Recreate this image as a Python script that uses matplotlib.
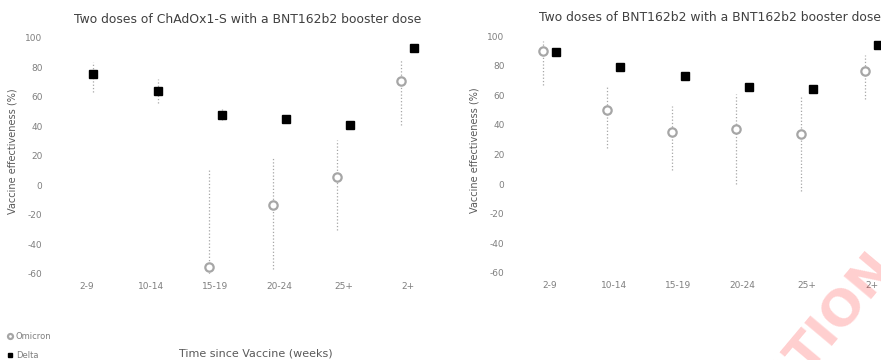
import numpy as np
import matplotlib.pyplot as plt

plt.rcParams['axes.unicode_minus'] = False

# 데이터
weeks = ['2-9', '10-14', '15-19', '20-24', '25+', '2+']

# ChAdOx1-S x2 + BNT162b2 booster
az_omicron = [np.nan, np.nan, -55.3, -13.2, 5.8, 70.8]
az_omicron_lo = [np.nan, np.nan, -60.0, -56.6, -30.2, 41.0]
az_omicron_hi = [np.nan, np.nan, 11.9, 19.3, 30.8, 85.0]
az_delta = [75.6, 64.0, 47.8, 45.0, 41.0, 93.2]
az_delta_lo = [63.4, 56.0, 44.4, 43.0, 39.0, 92.0]
az_delta_hi = [83.7, 72.2, 51.9, 47.0, 43.0, 94.0]

# BNT162b2 x2 + BNT162b2 booster
pf_omicron = [89.8, 49.8, 34.9, 37.0, 34.2, 76.3]
pf_omicron_lo = [66.8, 24.7, 9.8, 0.3, -4.4, 57.3]
pf_omicron_hi = [96.6, 65.4, 52.5, 60.7, 59.3, 87.0]
pf_delta = [89.2, 79.0, 72.9, 65.4, 64.0, 94.0]
pf_delta_lo = [88.0, 78.0, 72.0, 64.5, 63.0, 93.5]
pf_delta_hi = [90.0, 80.0, 73.8, 66.3, 65.0, 94.5]

GREY = '#a6a6a6'
TXT = '#7f7f7f'


def draw_panel(ax, title, om, om_lo, om_hi, de, de_lo, de_hi):
    x = np.arange(len(weeks))
    om, om_lo, om_hi = map(np.array, (om, om_lo, om_hi))
    de, de_lo, de_hi = map(np.array, (de, de_lo, de_hi))

    # 신뢰구간 (점선)
    ax.vlines(x - 0.1, om_lo, om_hi, colors=GREY, linestyles=':', lw=0.9)
    ax.vlines(x + 0.1, de_lo, de_hi, colors=GREY, linestyles=':', lw=0.9)

    ax.plot(x - 0.1, om, 'o', ms=6, mfc='white', mec=GREY, mew=1.6,
            ls='none', label='Omicron')
    ax.plot(x + 0.1, de, 's', ms=6, color='black', ls='none', label='Delta')

    ax.set_xlim(-0.5, len(weeks) - 0.5)
    ax.set_ylim(-60, 100)
    ax.set_yticks(range(-60, 101, 20))
    ax.set_xticks(x)
    ax.set_xticklabels(weeks)
    ax.tick_params(length=0, labelsize=6.5, colors=TXT)
    ax.tick_params(axis='y', pad=9)
    ax.tick_params(axis='x', pad=6)
    for s in ax.spines.values():
        s.set_visible(False)

    ax.set_title(title, fontsize=8.9, color='#404040', pad=11)
    ax.set_ylabel('Vaccine effectiveness (%)', fontsize=7, color='#595959')
    ax.yaxis.set_label_coords(-0.097, 0.52)


fig = plt.figure(figsize=(8.81, 3.6), dpi=100)
ax1 = fig.add_axes([0.0624, 0.239, 0.437, 0.656])
ax2 = fig.add_axes([0.5868, 0.2417, 0.439, 0.658])

draw_panel(ax1, 'Two doses of ChAdOx1-S with a BNT162b2 booster dose',
           az_omicron, az_omicron_lo, az_omicron_hi,
           az_delta, az_delta_lo, az_delta_hi)
draw_panel(ax2, 'Two doses of BNT162b2 with a BNT162b2 booster dose',
           pf_omicron, pf_omicron_lo, pf_omicron_hi,
           pf_delta, pf_delta_lo, pf_delta_hi)

fig.text(256 / 881, 1 - 354 / 360, 'Time since Vaccine (weeks)',
         ha='center', va='center', fontsize=8, color='#595959')

# 범례
h, l = ax1.get_legend_handles_labels()
fig.legend(h, l, loc='lower left', bbox_to_anchor=(0.0, -0.02), frameon=False,
           fontsize=6, labelcolor=TXT, handlelength=0.6, handletextpad=0.4,
           markerscale=0.6, labelspacing=1.2)

# 워터마크
fig.text(884 / 881, 1 - 258 / 360, 'PUBLICATION', rotation=50, rotation_mode='anchor',
         ha='right', va='center', fontsize=36, fontweight='bold',
         color='#ff4040', alpha=0.25)

fig.savefig('out.png', dpi=100)
